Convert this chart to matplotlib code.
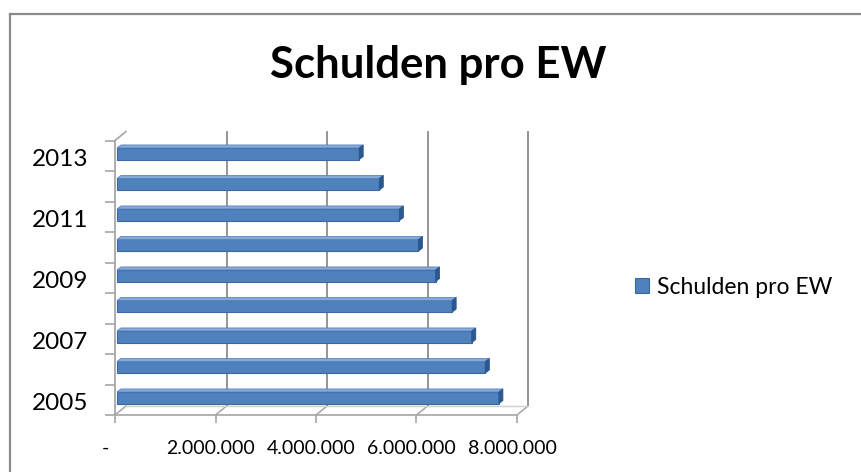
import matplotlib.pyplot as plt
from matplotlib.patches import Polygon
from matplotlib.lines import Line2D
from matplotlib.transforms import ScaledTranslation

years = [2005, 2006, 2007, 2008, 2009, 2010, 2011, 2012, 2013]
schulden = [7600000, 7330000, 7060000, 6670000, 6340000, 6000000, 5620000, 5220000, 4820000]
xticks = [0, 2000000, 4000000, 6000000, 8000000]
xticklabels = ["-", "2.000.000", "4.000.000", "6.000.000", "8.000.000"]

plt.rcParams['font.family'] = ['Lato', 'DejaVu Sans']

W, H = 861, 472
fig = plt.figure(figsize=(W / 100, H / 100), dpi=100)
ax = fig.add_axes([115 / W, 1 - 415 / H, 402 / W, 274.5 / H])
ax.set_xlim(0, 8000000)
ax.set_ylim(-0.5, len(years) - 0.5)

# pseudo-3D depth offsets (data units)
px_x = 8000000 / 402
px_y = 1 / 30.5
dx, dy = 11 * px_x, 9 * px_y      # back wall offset
bx, by = 2 * px_x, 2 * px_y       # bar offset
tx, ty = 4 * px_x, 3 * px_y       # bar top face depth
top = len(years) - 0.5 + 9 * px_y
grid = '#8c8c8c'

# back wall gridlines + floor lines
for xv in xticks:
    ax.plot([xv, xv + dx], [-0.5, -0.5 + dy], color='#a6a6a6', lw=1.1, clip_on=False)
    if xv > 0:
        ax.plot([xv + dx, xv + dx], [-0.5 + dy, top], color=grid, lw=1.3, clip_on=False)
ax.plot([dx, 8000000 + dx], [-0.5 + dy, -0.5 + dy], color='#d0d0d0', lw=1, clip_on=False)
ax.plot([0, 8000000], [-0.5, -0.5], color='#a6a6a6', lw=1.2, clip_on=False)
ax.plot([0, 0], [-0.5, len(years) - 0.5], color='#a6a6a6', lw=1.3, clip_on=False)
ax.plot([0, dx], [len(years) - 0.5, top], color='#a6a6a6', lw=1.2, clip_on=False)

h = 0.38
pos = [i + by for i in range(len(years))]
bars = ax.barh(pos, schulden, height=h, left=bx, color='#4F81BD',
               edgecolor='#3a68a3', linewidth=0.8, label='Schulden pro EW', zorder=3)
for p, v in zip(pos, schulden):
    y1 = p + h / 2
    ax.add_patch(Polygon([[bx, y1], [bx + v, y1], [bx + v + tx, y1 + ty], [bx + tx, y1 + ty]],
                         closed=True, facecolor='#86a9d8', edgecolor='#5b86c0', lw=0.6, zorder=3))
    ax.add_patch(Polygon([[bx + v, y1], [bx + v + tx, y1 + ty], [bx + v + tx, y1 + ty - h], [bx + v, y1 - h]],
                         closed=True, facecolor='#2c5890', edgecolor='#2c5890', lw=0.6, zorder=3))

for s in ax.spines.values():
    s.set_visible(False)

ax.set_xticks(xticks)
ax.set_xticklabels(xticklabels, fontsize=14)
ax.tick_params(axis='x', length=6, width=1.2, color='#a6a6a6', pad=12)
for i, lab in enumerate(ax.get_xticklabels()):
    shift = -10 if i == 0 else -5
    lab.set_transform(lab.get_transform() + ScaledTranslation(shift / 100, 0, fig.dpi_scale_trans))

ax.set_yticks(range(0, len(years), 2))
ax.set_yticklabels([str(years[i]) for i in range(0, len(years), 2)], fontsize=17.5)
ax.tick_params(axis='y', which='major', length=0, pad=19)
for lab in ax.get_yticklabels():
    lab.set_transform(lab.get_transform() + ScaledTranslation(0, -2 / 100, fig.dpi_scale_trans))
ax.set_yticks([i - 0.5 for i in range(len(years) + 1)], minor=True)
ax.tick_params(axis='y', which='minor', length=7, width=1.2, color='#a6a6a6')

fig.text(438.5 / W, 1 - 78 / H, 'Schulden pro EW', fontsize=31.5, fontweight='bold',
         ha='center', va='baseline')

ax.legend(handles=[bars], loc='center left', bbox_to_anchor=(635 / W, 1 - 287 / H),
          bbox_transform=fig.transFigure, frameon=False, fontsize=16.5,
          handlelength=0.62, handleheight=0.62, handletextpad=0.35,
          borderpad=0, borderaxespad=0)

# chart border (only left and top edges are visible)
fig.add_artist(Line2D([10 / W, 10 / W], [0, 1 - 14 / H], color='#8c8c8c', lw=1.6))
fig.add_artist(Line2D([10 / W, 1], [1 - 14 / H, 1 - 14 / H], color='#8c8c8c', lw=1.6))

fig.savefig('out.png', dpi=100)
